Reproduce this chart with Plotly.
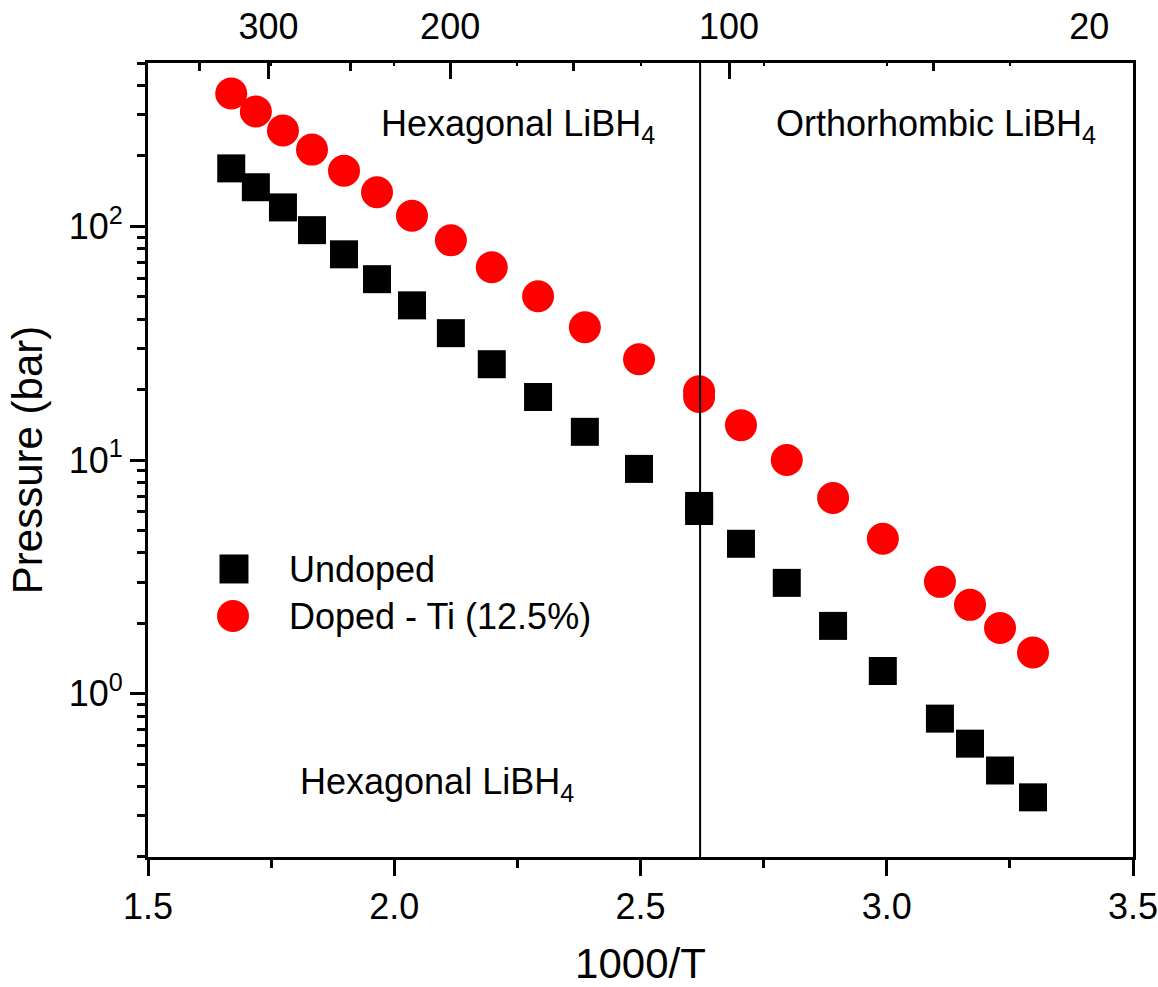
import plotly.graph_objects as go

# ---------------- data ----------------
inv_T = [1.669, 1.719, 1.774, 1.833, 1.898, 1.965, 2.036, 2.115, 2.198, 2.292, 2.387,
         2.497, 2.619, 2.619, 2.704, 2.797, 2.891, 2.992, 3.108, 3.169, 3.230, 3.297]
p_undoped = [177, 147, 120.5, 96.3, 75.9, 59.4, 45.9, 34.9, 25.7, 18.6, 13.2,
             9.16, 6.36, 6.05, 4.38, 2.98, 1.95, 1.25, 0.782, 0.611, 0.469, 0.360]
p_doped = [370, 310, 257, 213, 173, 140, 111, 87.1, 66.8, 50.2, 37.0,
           27.0, 19.7, 18.6, 14.1, 10.0, 6.88, 4.60, 3.01, 2.40, 1.91, 1.50]
series_names = ["Undoped", "Doped - Ti (12.5%)"]
series_colors = ["black", "#FF0000"]

transition_invT = 2.621
top_T_labels = [300, 200, 100, 20]          # deg C, labelled on top axis
top_T_major = [300, 200, 100]               # long ticks
top_T_minor = [350, 250, 150, 50]           # short ticks
x_ticks = [1.5, 2.0, 2.5, 3.0, 3.5]
x_minor = [1.75, 2.25, 2.75, 3.25]
y_ticks = [1, 10, 100]
y_ticktext = ["10<sup>0</sup>", "10<sup>1</sup>", "10<sup>2</sup>"]
y_minor = [0.2, 0.3, 0.4, 0.5, 0.6, 0.7, 0.8, 0.9,
           2, 3, 4, 5, 6, 7, 8, 9, 20, 30, 40, 50, 60, 70, 80, 90,
           200, 300, 400, 500]


def inv(tc):
    return 1000.0 / (tc + 273.15)


FONT = "Liberation Sans, Arial, sans-serif"

fig = go.Figure()
fig.add_trace(go.Scatter(x=inv_T, y=p_undoped, mode="markers", name=series_names[0],
                         showlegend=False,
                         marker=dict(symbol="square", size=28, color=series_colors[0],
                                     line=dict(width=0))))
fig.add_trace(go.Scatter(x=inv_T, y=p_doped, mode="markers", name=series_names[1],
                         showlegend=False,
                         marker=dict(symbol="circle", size=32, color=series_colors[1],
                                     line=dict(width=0))))

# dummy invisible traces to activate top axes
for ax in ["x2", "x3", "x4"]:
    fig.add_trace(go.Scatter(x=[None], y=[None], xaxis=ax, yaxis="y",
                             showlegend=False, hoverinfo="skip"))

fig.add_shape(type="line", x0=transition_invT, x1=transition_invT, y0=0, y1=1,
              xref="x", yref="paper", line=dict(color="black", width=2))

ann_font = dict(family=FONT, size=36, color="black")
fig.add_annotation(x=2.252, y=2.43, xref="x", yref="y", showarrow=False,
                   text="Hexagonal LiBH<sub>4</sub>", font=ann_font)
fig.add_annotation(x=3.10, y=2.43, xref="x", yref="y", showarrow=False,
                   text="Orthorhombic LiBH<sub>4</sub>", font=ann_font)
fig.add_annotation(x=2.087, y=-0.385, xref="x", yref="y", showarrow=False,
                   text="Hexagonal LiBH<sub>4</sub>", font=ann_font)

# ---- legend (drawn to match the reference's large symbols) ----
leg_font = dict(family=FONT, size=36, color="black")
fig.add_shape(type="rect", xref="paper", yref="paper",
              x0=0.0726, x1=0.1020, y0=0.3445, y1=0.381,
              fillcolor=series_colors[0], line=dict(width=0))
fig.add_shape(type="circle", xref="paper", yref="paper",
              x0=0.0701, x1=0.1025, y0=0.2834, y1=0.3237,
              fillcolor=series_colors[1], line=dict(width=0))
fig.add_annotation(x=0.1411, y=0.3627, xref="paper", yref="paper", xanchor="left",
                   yanchor="middle", showarrow=False, text=series_names[0], font=leg_font)
fig.add_annotation(x=0.1411, y=0.3035, xref="paper", yref="paper", xanchor="left",
                   yanchor="middle", showarrow=False, text=series_names[1], font=leg_font)

tick_font = dict(family=FONT, size=36, color="black")
title_font = dict(family=FONT, size=42, color="black")

fig.update_layout(
    width=1158, height=987,
    margin=dict(l=148, r=25, t=63, b=130, autoexpand=False),
    paper_bgcolor="white", plot_bgcolor="white",
    font=dict(family=FONT, color="black"),
    showlegend=False,
    xaxis=dict(range=[1.5, 3.5], tickvals=x_ticks, ticktext=["1.5", "2.0", "2.5", "3.0", "3.5"],
               ticks="outside", ticklen=16, tickwidth=2.5, tickcolor="black",
               minor=dict(tickvals=x_minor, ticks="outside", ticklen=8, tickwidth=2.5,
                          tickcolor="black"),
               ticklabeloverflow="allow", automargin=False,
               showline=True, linewidth=3, linecolor="black", mirror=True,
               showgrid=False, zeroline=False, tickfont=tick_font,
               title=dict(text="1000/T", font=title_font, standoff=30)),
    xaxis2=dict(range=[1.5, 3.5], overlaying="x", side="top",
                tickvals=[inv(t) for t in top_T_labels], ticktext=[str(t) for t in top_T_labels],
                ticks="", ticklabelstandoff=16, ticklabeloverflow="allow", automargin=False,
                showline=False, showgrid=False, zeroline=False, tickfont=tick_font),
    xaxis3=dict(range=[1.5, 3.5], overlaying="x", side="top",
                tickvals=[inv(t) for t in top_T_major], showticklabels=False,
                ticks="inside", ticklen=16, tickwidth=2.5, tickcolor="black",
                minor=dict(tickvals=[inv(t) for t in top_T_minor], ticks="inside",
                           ticklen=8, tickwidth=2.5, tickcolor="black"),
                automargin=False,
                showline=False, showgrid=False, zeroline=False),
    xaxis4=dict(range=[1.5, 3.5], overlaying="x", side="top",
                tickvals=[1.75, 2.0, 2.25, 2.5, 2.75, 3.0, 3.25], showticklabels=False,
                ticks="inside", ticklen=3, tickwidth=2, tickcolor="black", automargin=False,
                showline=False, showgrid=False, zeroline=False),
    yaxis=dict(type="log", range=[-0.699, 2.699], tickvals=y_ticks, ticktext=y_ticktext,
               ticks="outside", ticklen=15, tickwidth=2.5, tickcolor="black",
               minor=dict(tickvals=y_minor, ticks="outside", ticklen=8, tickwidth=2.5,
                          tickcolor="black"),
               automargin=False,
               showline=True, linewidth=3, linecolor="black", mirror=True,
               showgrid=False, zeroline=False, tickfont=tick_font,
               title=dict(text="Pressure (bar)", font=title_font, standoff=14)),
)

fig.write_html("out.html")
